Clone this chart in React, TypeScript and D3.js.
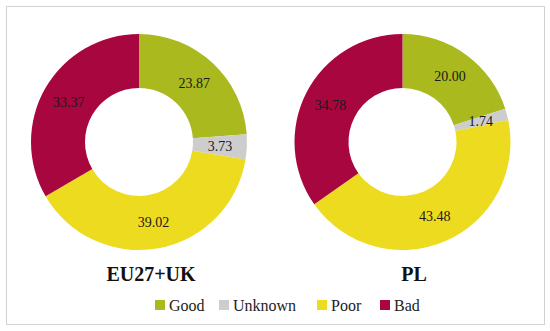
import React from 'react';
import * as d3 from 'd3';

const categories = ['Good', 'Unknown', 'Poor', 'Bad'];
const colors = ['#a9b91e', '#cdcdcd', '#eddb1f', '#a8063f'];
const euValues = [23.87, 3.73, 39.02, 33.37];
const plValues = [20.0, 1.74, 43.48, 34.78];
const charts = [
  { title: 'EU27+UK', values: euValues, cx: 139, titleX: 151 },
  { title: 'PL', values: plValues, cx: 402.5, titleX: 414 },
];

const W = 550;
const H = 331;
const cy = 142;
const outerR = 108;
const innerR = 54;
const serif = '"Book Antiqua", Palatino, "Liberation Serif", "DejaVu Serif", serif';

const pie = d3.pie<number>().sort(null).value(d => d);
const arc = d3.arc<d3.PieArcDatum<number>>().innerRadius(innerR).outerRadius(outerR);

const Donut = ({ values, cx }: { values: number[]; cx: number }) => {
  const arcs = pie(values);
  return (
    <g transform={`translate(${cx},${cy})`}>
      {arcs.map((a, i) => (
        <path key={i} d={arc(a) || ''} fill={colors[i]} />
      ))}
      {arcs.map((a, i) => {
        const [x, y] = arc.centroid(a);
        return (
          <text key={'t' + i} x={x} y={y} dy="0.35em" textAnchor="middle"
            fontFamily={serif} fontSize={14} fill="#1a1a1a">
            {values[i].toFixed(2)}
          </text>
        );
      })}
    </g>
  );
};

// legend item x positions (square left edges)
const legendX = [155, 219, 317, 380];

export default function App() {
  return (
    <svg width={W} height={H} style={{ position: 'absolute', left: 0, top: 0, background: '#fff' }}>
      <rect x={6.5} y={6.5} width={538} height={318} fill="#fff" stroke="#d2d2d2" strokeWidth={1} />
      {charts.map(c => (
        <g key={c.title}>
          <Donut values={c.values} cx={c.cx} />
          <text x={c.titleX} y={281} textAnchor="middle" fontFamily={serif}
            fontWeight="bold" fontSize={20} fill="#111">
            {c.title}
          </text>
        </g>
      ))}
      {categories.map((name, i) => (
        <g key={name} transform={`translate(${legendX[i]},300)`}>
          <rect x={0} y={0} width={10} height={10} fill={colors[i]} />
          <text x={14} y={10.5} fontFamily={serif} fontSize={16} fill="#222">
            {name}
          </text>
        </g>
      ))}
    </svg>
  );
}
